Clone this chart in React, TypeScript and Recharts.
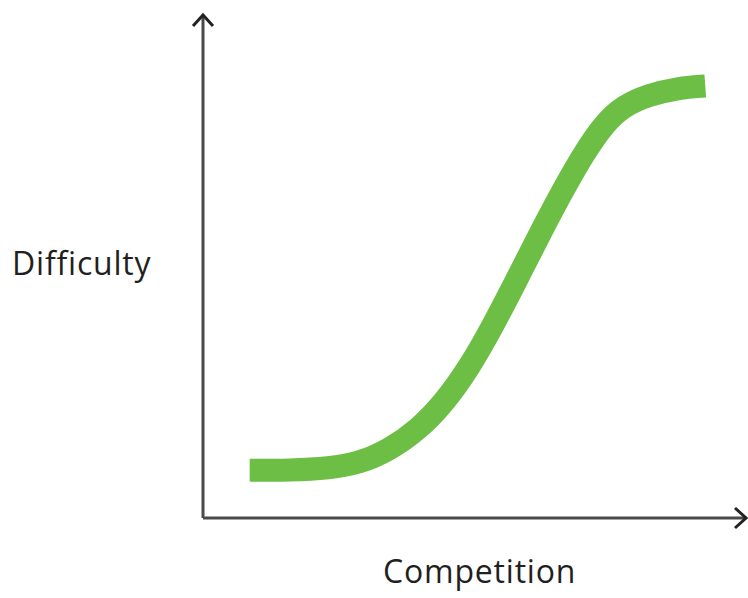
import React from "react";
import { LineChart, Line, XAxis, YAxis, ReferenceLine, ReferenceDot } from "recharts";

// Competition (x) vs Difficulty (y), arbitrary units 0..100
const competition = [8.6, 16.0, 23.3, 28.8, 34.3, 39.8, 44.4, 49.0, 53.6, 58.2, 62.8, 66.4, 70.1, 73.8, 77.4, 82.0, 87.5, 92.5];
const difficulty = [9.5, 9.5, 9.9, 10.9, 13.5, 17.7, 22.9, 29.8, 38.6, 48.3, 58.1, 65.4, 72.4, 78.3, 81.9, 84.1, 85.5, 85.9];

const xLabel = "Competition";
const yLabel = "Difficulty";

const data = competition.map((c, i) => ({ c, d: difficulty[i] }));

const AXIS = "#4a4a4a";
const GREEN = "#6cbe45";

const UpArrow = (p: any) => (
  <path
    d={`M${p.cx - 10},${p.cy + 11} L${p.cx},${p.cy} L${p.cx + 10},${p.cy + 11}`}
    fill="none"
    stroke="#222"
    strokeWidth={3}
  />
);
const RightArrow = (p: any) => (
  <path
    d={`M${p.cx - 11},${p.cy - 10} L${p.cx},${p.cy} L${p.cx - 11},${p.cy + 10}`}
    fill="none"
    stroke="#222"
    strokeWidth={3}
  />
);

const labelStyle: React.CSSProperties = {
  position: "absolute",
  fontFamily: "'Open Sans', sans-serif",
  fontSize: 32,
  letterSpacing: 0.8,
  color: "#231f20",
  lineHeight: "32px",
  whiteSpace: "nowrap",
};

export default function App() {
  return (
    <div style={{ position: "absolute", left: 0, top: 0, width: 748, height: 598, background: "#fff", overflow: "hidden" }}>
      <LineChart
        width={748}
        height={598}
        data={data}
        margin={{ top: 15, right: 2, bottom: 80, left: 203 }}
      >
        <XAxis type="number" dataKey="c" domain={[0, 100]} hide />
        <YAxis type="number" domain={[0, 100]} hide />
        <ReferenceLine x={0} stroke={AXIS} strokeWidth={3} ifOverflow="visible" />
        <ReferenceLine y={0} stroke={AXIS} strokeWidth={3} ifOverflow="visible" />
        <ReferenceDot x={0} y={100} r={1} ifOverflow="visible" shape={UpArrow} />
        <ReferenceDot x={100} y={0} r={1} ifOverflow="visible" shape={RightArrow} />
        <Line
          type="basis"
          dataKey="d"
          stroke={GREEN}
          strokeWidth={23}
          dot={false}
          isAnimationActive={false}
        />
      </LineChart>
      <div style={{ ...labelStyle, left: 12, top: 247 }}>{yLabel}</div>
      <div style={{ ...labelStyle, left: 383, top: 555 }}>{xLabel}</div>
    </div>
  );
}
